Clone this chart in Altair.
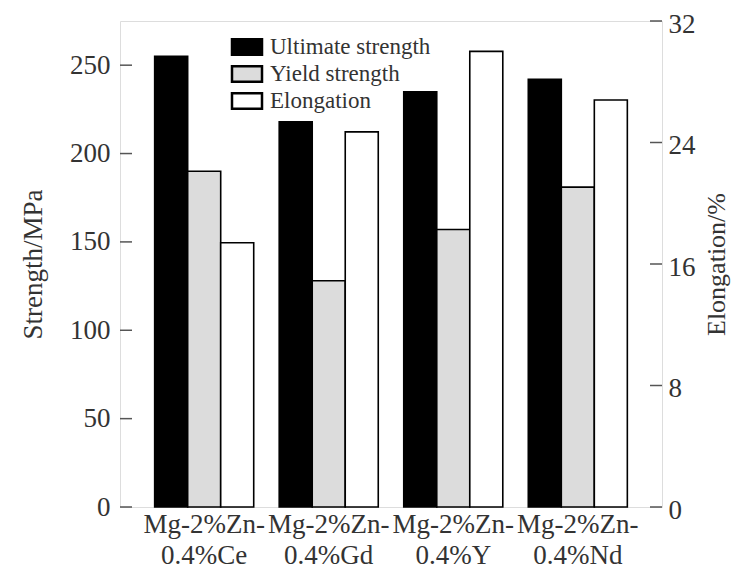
import altair as alt
import pandas as pd

alloys = ["Mg-2%Zn-|0.4%Ce", "Mg-2%Zn-|0.4%Gd", "Mg-2%Zn-|0.4%Y", "Mg-2%Zn-|0.4%Nd"]
series = ["Ultimate strength", "Yield strength", "Elongation"]
ultimate = [255, 218, 235, 242]
yield_strength = [190, 128, 157, 181]
elongation = [17.4, 24.7, 30.0, 26.8]
strength_ticks = [0, 50, 100, 150, 200, 250]
elong_ticks = [0, 8, 16, 24, 32]
colors = ["#000000", "#dcdcdc", "#ffffff"]

W, H = 542, 486
FONT = "Liberation Serif"
TXT = "#333333"
FRAME = "#555555"

strength_df = pd.DataFrame(
    [{"alloy": a, "series": series[0], "value": v} for a, v in zip(alloys, ultimate)]
    + [{"alloy": a, "series": series[1], "value": v} for a, v in zip(alloys, yield_strength)]
)
elong_df = pd.DataFrame(
    [{"alloy": a, "series": series[2], "value": v} for a, v in zip(alloys, elongation)]
)
stick_df = pd.DataFrame({"value": strength_ticks})
etick_df = pd.DataFrame({"value": elong_ticks})

x_enc = alt.X(
    "alloy:N",
    sort=alloys,
    scale=alt.Scale(paddingInner=0, paddingOuter=0.176),
    axis=alt.Axis(
        title=None, ticks=False, domain=False, labelAngle=0,
        labelExpr="split(datum.label, '|')", labelFont=FONT,
        labelFontSize=27, labelLineHeight=31, labelPadding=4, labelColor=TXT,
    ),
)
xoff = alt.XOffset("series:N", scale=alt.Scale(domain=series, paddingInner=0, paddingOuter=0.386))
color = alt.Color(
    "series:N",
    scale=alt.Scale(domain=series, range=colors),
    legend=alt.Legend(
        title=None, orient="none", legendX=113, legendY=12,
        symbolType="M-1.2,-0.62H1.2V0.62H-1.2Z", symbolSize=625,
        symbolStrokeColor="black", symbolStrokeWidth=2.5, symbolOpacity=1,
        labelFontSize=23, labelColor=TXT, labelFont=FONT, labelLimit=0,
        rowPadding=0, labelOffset=9,
    ),
)

left_axis = alt.Axis(
    title="Strength/MPa", values=strength_ticks, ticks=False, domain=False, grid=False,
    labelPadding=10, titlePadding=22, labelFontSize=27, titleFontSize=27,
    labelFont=FONT, titleFont=FONT,
    titleFontWeight="normal", labelColor=TXT, titleColor=TXT,
)
right_axis = alt.Axis(
    title="Elongation/%", orient="right", values=elong_ticks, ticks=False, domain=False,
    grid=False, labelPadding=6, labelOffset=3, titlePadding=8, titleAngle=270,
    titleBaseline="top",
    labelFontSize=27, titleFontSize=26, titleFontWeight="normal",
    labelFont=FONT, titleFont=FONT,
    labelColor=TXT, titleColor=TXT,
)
s_scale = alt.Scale(domain=[0, 275], nice=False)
e_scale = alt.Scale(domain=[0, 32], nice=False)

strength_bars = alt.Chart(strength_df).mark_bar(stroke="black", strokeWidth=1.6).encode(
    x=x_enc, xOffset=xoff, color=color,
    y=alt.Y("value:Q", scale=s_scale, axis=left_axis),
)
strength_ticks_layer = alt.Chart(stick_df).mark_rule(color=FRAME, strokeWidth=1.5).encode(
    y=alt.Y("value:Q", scale=s_scale, axis=left_axis),
    x=alt.value(0), x2=alt.value(12),
)
elong_bars = alt.Chart(elong_df).mark_bar(stroke="black", strokeWidth=1.6).encode(
    x=x_enc, xOffset=xoff, color=color,
    y=alt.Y("value:Q", scale=e_scale, axis=right_axis),
)
elong_ticks_layer = alt.Chart(etick_df).mark_rule(color=FRAME, strokeWidth=1.5).encode(
    y=alt.Y("value:Q", scale=e_scale, axis=right_axis),
    x=alt.value(W - 12), x2=alt.value(W),
)

chart = alt.layer(
    alt.layer(strength_bars, strength_ticks_layer),
    alt.layer(elong_bars, elong_ticks_layer),
).resolve_scale(y="independent").properties(
    width=W, height=H,
    autosize=alt.AutoSizeParams(type="none"),
    padding={"left": 112, "top": 13, "right": 70, "bottom": 64},
).configure_view(
    stroke=FRAME, strokeWidth=1.6
).configure(background="white")

chart.save("out.html", embed_options={"renderer": "svg", "actions": False})
